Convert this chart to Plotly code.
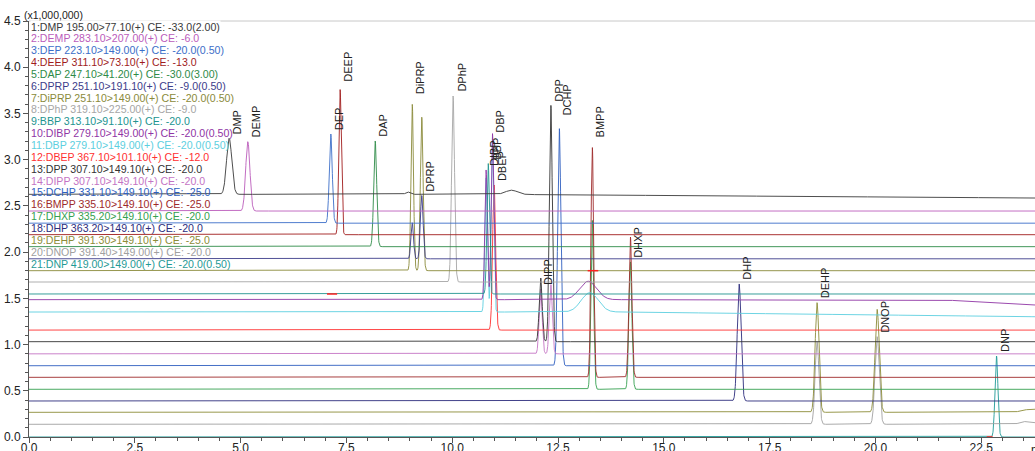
import numpy as np
import plotly.graph_objects as go

# ---- channels (MRM transitions) ----
compounds = ["DMP", "DEMP", "DEP", "DEEP", "DAP", "DPRP", "DiPRP", "DPhP", "BBP", "DIBP",
             "DBP", "DBEP", "DPP", "DIPP", "DCHP", "BMPP", "DHXP", "DHP", "DEHP", "DNOP", "DNP"]
transitions = [
    "195.00>77.10(+) CE: -33.0(2.00)",
    "283.10>207.00(+) CE: -6.0",
    "223.10>149.00(+) CE: -20.0(0.50)",
    "311.10>73.10(+) CE: -13.0",
    "247.10>41.20(+) CE: -30.0(3.00)",
    "251.10>191.10(+) CE: -9.0(0.50)",
    "251.10>149.00(+) CE: -20.0(0.50)",
    "319.10>225.00(+) CE: -9.0",
    "313.10>91.10(+) CE: -20.0",
    "279.10>149.00(+) CE: -20.0(0.50)",
    "279.10>149.00(+) CE: -20.0(0.50)",
    "367.10>101.10(+) CE: -12.0",
    "307.10>149.10(+) CE: -20.0",
    "307.10>149.10(+) CE: -20.0",
    "331.10>149.10(+) CE: -25.0",
    "335.10>149.10(+) CE: -25.0",
    "335.20>149.10(+) CE: -20.0",
    "363.20>149.10(+) CE: -20.0",
    "391.30>149.10(+) CE: -25.0",
    "391.40>149.00(+) CE: -20.0",
    "419.00>149.00(+) CE: -20.0(0.50)",
]
colors = ["#3a3a3a", "#bb5cbb", "#3c6ec8", "#a01c1c", "#2e8b47", "#3c3c8a", "#8a8a3a",
          "#a6a6a6", "#229490", "#9035a5", "#5ccfe0", "#ff3030", "#333333", "#c474c4",
          "#2f5fbf", "#9e2a2a", "#35a050", "#2d2d7d", "#8c8c38", "#a0a0a0", "#1f9a96"]

# baseline level of each channel at run start (x1,000,000)
baseline = [0.055, 0.003, 0.0, 0.004, 0.003, 0.0, 0.0, 0.006, 0.005, 0.072, 0.067,
            0.0, 0.003, 0.0, 0.0, 0.003, 0.002, 0.004, 0.010, 0.009, 0.0]
# late-run baseline drift: channel, time drift begins, level at end of run
drift_channel = [1, 10, 11, 19, 20]
drift_start = [11.0, 21.5, 14.0, 23.3, 23.3]
drift_end = [0.015, 0.0145, 0.016, 0.043, 0.026]

# ---- detected peaks: channel, retention time (min), height, width (sigma, min) ----
peak_channel = [1, 1, 1, 2, 3, 4, 5, 6, 6, 7, 7, 8, 9, 10, 10, 10, 11, 11, 11, 12,
                13, 13, 14, 14, 15, 16, 16, 17, 17, 18, 19, 19, 19, 20, 20, 20, 21]
peak_rt = [4.73, 8.95, 11.40, 5.17, 7.13, 7.35, 8.18, 9.055, 9.28, 9.055, 9.28, 10.02,
           10.85, 10.80, 10.95, 13.21, 10.80, 10.95, 13.25, 10.99,
           12.09, 12.33, 12.09, 12.33, 12.53, 13.31, 14.21, 13.31, 14.21, 16.78,
           18.62, 20.04, 23.50, 18.62, 20.04, 23.50, 22.86]
peak_height = [0.606, 0.025, 0.046, 0.750, 0.966, 1.573, 1.143, 0.390, 0.685, 1.800, 1.660, 2.012,
               1.414, 1.403, 1.800, 0.200, 1.450, 1.900, 0.210, 1.572,
               0.690, 2.560, 0.700, 0.750, 2.568, 2.490, 1.520, 1.830, 1.380, 1.266,
               1.186, 1.114, 0.012, 0.894, 0.948, 0.022, 0.876]
peak_width = [0.062, 0.05, 0.14, 0.050, 0.035, 0.030, 0.035, 0.030, 0.032, 0.030, 0.032, 0.035,
              0.030, 0.030, 0.030, 0.20, 0.030, 0.030, 0.20, 0.035,
              0.035, 0.035, 0.035, 0.035, 0.038, 0.032, 0.035, 0.032, 0.035, 0.045,
              0.045, 0.050, 0.10, 0.045, 0.050, 0.10, 0.035]

# ---- peak name labels: text, channel, retention time ----
label_text = ["DMP", "DEMP", "DEP", "DEEP", "DAP", "DiPRP", "DPRP", "DPhP", "DIBP", "BBP",
              "DBEP", "DBP", "DIPP", "DPP", "DCHP", "BMPP", "DHXP", "DHP", "DEHP", "DNOP", "DNP"]
label_channel = [1, 2, 3, 4, 5, 7, 6, 8, 10, 9, 12, 11, 14, 13, 15, 16, 17, 18, 19, 20, 21]
label_rt = [4.73, 5.17, 7.13, 7.35, 8.18, 9.055, 9.28, 10.02, 10.80, 10.85, 10.99, 10.95,
            12.09, 12.33, 12.53, 13.31, 14.21, 16.78, 18.62, 20.04, 22.86]

# ---- integration markers: channel, start, end (min) ----
mark_channel = [9, 7, 21]
mark_start = [7.04, 13.20, 22.63]
mark_end = [7.28, 13.45, 22.77]

# ---- axes ----
x_max = 23.77
y_max = 4.5
channel_step = 0.1285  # vertical offset between stacked channels

font_family = "Liberation Sans, Arial, sans-serif"
t = np.arange(0.0, x_max + 0.004, 0.004)
n_ch = len(compounds)


def channel_offset(ch):
    return (n_ch - ch) * channel_step


def channel_signal(ch):
    base = np.full_like(t, baseline[ch - 1])
    if ch in drift_channel:
        k = drift_channel.index(ch)
        base = np.interp(t, [0.0, drift_start[k], x_max],
                         [baseline[ch - 1], baseline[ch - 1], drift_end[k]])
    sig = base.copy()
    for c, rt, h, w in zip(peak_channel, peak_rt, peak_height, peak_width):
        if c == ch:
            sig += h * np.exp(-0.5 * ((t - rt) / w) ** 2)
    return sig


curves = {ch: channel_offset(ch) + channel_signal(ch) for ch in range(1, n_ch + 1)}

fig = go.Figure()

# later channels first so channel 1 sits on top
for ch in range(n_ch, 0, -1):
    fig.add_trace(go.Scatter(
        x=t, y=curves[ch], mode="lines",
        line=dict(color=colors[ch - 1], width=0.9),
        hoverinfo="skip", showlegend=False,
    ))

for c, a, b in zip(mark_channel, mark_start, mark_end):
    lvl = float(np.interp((a + b) / 2, t, curves[c]))
    fig.add_trace(go.Scatter(
        x=[a, b], y=[lvl, lvl], mode="lines",
        line=dict(color="#ff2020", width=1.5),
        hoverinfo="skip", showlegend=False,
    ))

annotations = []

# peak names, written upward just above each apex
label_lift = {"DEEP": 4, "DiPRP": 6, "DCHP": 9, "BMPP": 6}
for txt, ch, rt in zip(label_text, label_channel, label_rt):
    apex = float(np.interp(rt, t, curves[ch]))
    annotations.append(dict(
        x=rt, y=apex, xref="x", yref="y", text=txt, showarrow=False,
        textangle=-90, xanchor="left", yanchor="bottom",
        xshift=1, yshift=3 + label_lift.get(txt, 0),
        font=dict(family=font_family, size=11, color="#222222"),
        borderpad=0,
    ))

# channel list in the upper left corner
plot_top_px, plot_h_px = 21, 416
for i in range(n_ch):
    ypx = 26.5 + i * 11.85
    annotations.append(dict(
        x=0, y=1 - (ypx - plot_top_px) / plot_h_px, xref="paper", yref="paper",
        text=f"{i + 1}:{compounds[i]} {transitions[i]}", showarrow=False,
        xanchor="left", yanchor="middle", xshift=1,
        font=dict(family=font_family, size=10.6, color=colors[i]),
        bgcolor="white" if i == 0 else None, borderpad=0,
    ))

annotations.append(dict(
    x=0, y=1, xref="paper", yref="paper", text="(x1,000,000)", showarrow=False,
    xanchor="left", yanchor="middle", xshift=-7, yshift=6,
    font=dict(family=font_family, size=10.5, color="#222222"),
))
annotations.append(dict(
    x=1, y=0, xref="paper", yref="paper", text="min", showarrow=False,
    xanchor="left", yanchor="top", xshift=-6, yshift=-4,
    font=dict(family=font_family, size=12, color="#222222"),
))

fig.update_layout(
    width=1035, height=451,
    margin=dict(l=29, r=0, t=21, b=14, autoexpand=False),
    paper_bgcolor="white", plot_bgcolor="white",
    annotations=annotations,
    shapes=[dict(type="line", xref="paper", yref="paper", x0=0, x1=1, y0=1, y1=1,
                 line=dict(color="#c8c8c8", width=1), layer="below")],
    font=dict(family=font_family, size=12, color="#222222"),
)
fig.update_xaxes(
    range=[0, x_max], showgrid=False, zeroline=False, automargin=False,
    showline=True, linecolor="#555555", linewidth=1, layer="below traces",
    ticks="outside", ticklen=5, tickcolor="#555555", tickwidth=1,
    tick0=0, dtick=2.5, tickformat=".1f", ticklabelstandoff=-5,
    tickfont=dict(family=font_family, size=12, color="#222222"),
    minor=dict(ticks="outside", ticklen=3, tickcolor="#555555", dtick=0.5, tick0=0),
)
fig.update_yaxes(
    range=[0, y_max], showgrid=False, zeroline=False, automargin=False,
    showline=True, linecolor="#555555", linewidth=1, layer="below traces",
    ticks="outside", ticklen=5, tickcolor="#555555", tickwidth=1,
    tick0=0, dtick=0.5, tickformat=".1f",
    tickfont=dict(family=font_family, size=12, color="#222222"),
    minor=dict(ticks="outside", ticklen=3, tickcolor="#555555", dtick=0.1, tick0=0),
)

fig.write_html("out.html")
